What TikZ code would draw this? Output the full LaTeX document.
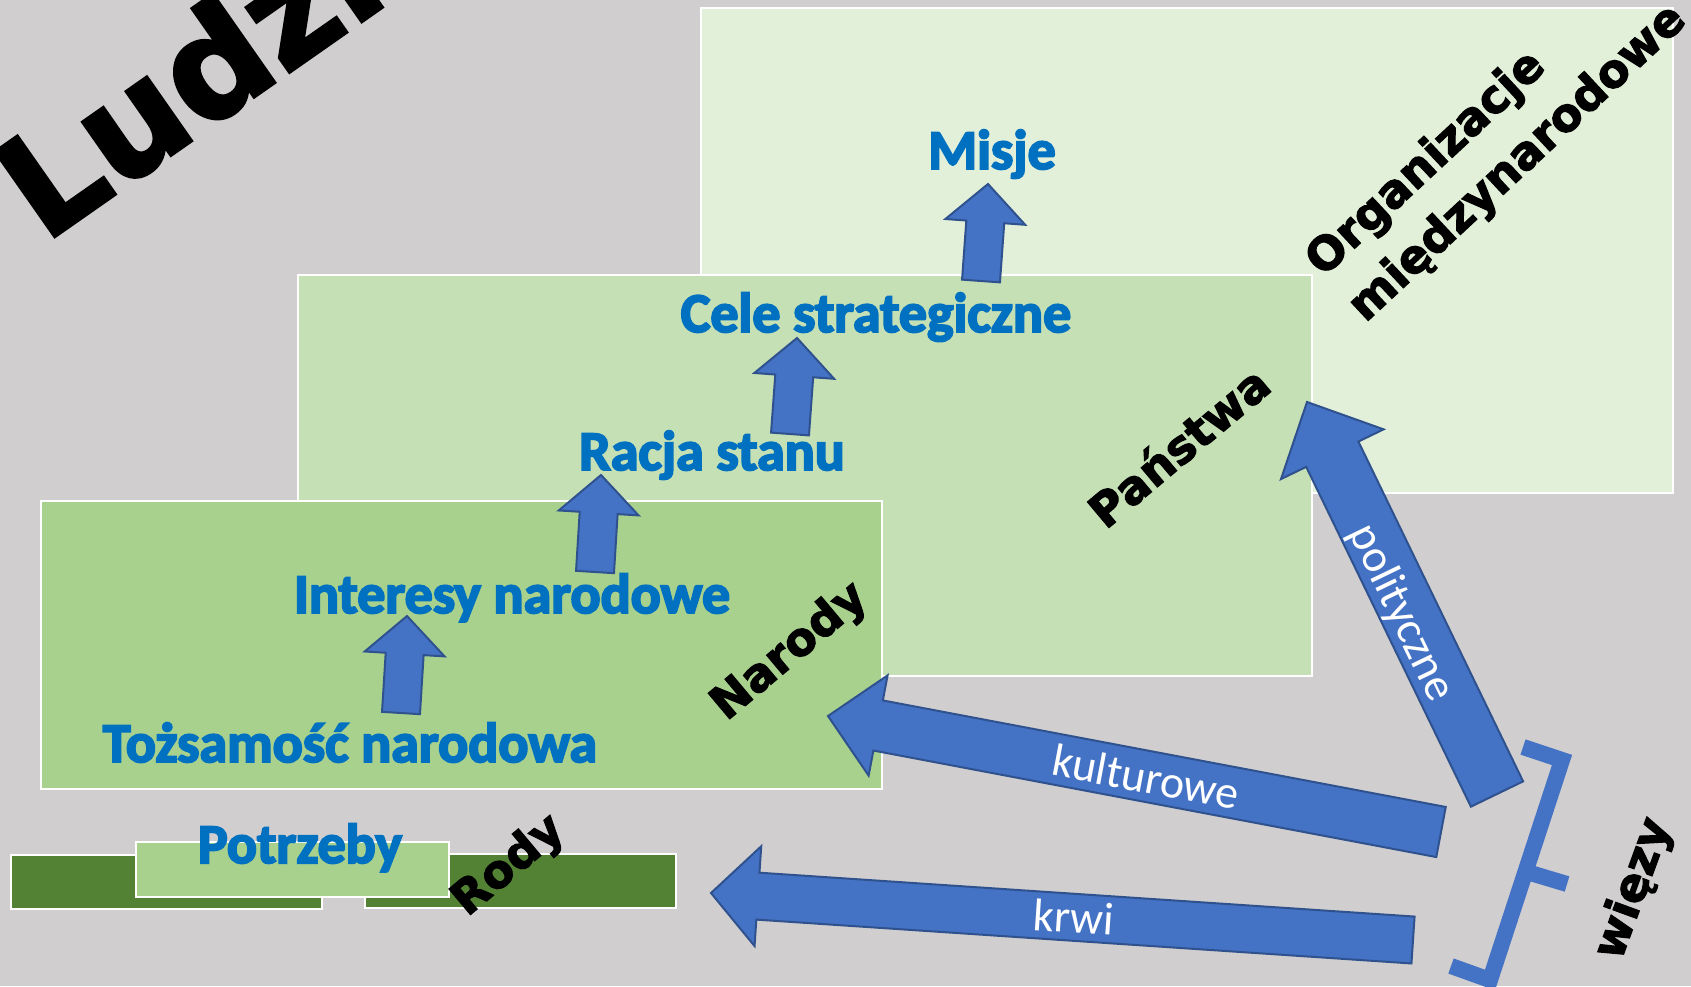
\documentclass[tikz,border=0pt]{standalone}
\usepackage{fontspec}
\setmainfont{Carlito}
\newfontfamily\goalfont{Carlito}[BoldFeatures={FakeBold=3.5}]
\newfontfamily\heavyfont{DejaVu Sans}[BoldFeatures={FakeBold=2.4}]
\usetikzlibrary{calc}

\definecolor{canvasgray}{HTML}{D0CECE}
\definecolor{orggreen}{HTML}{E2F0D9}
\definecolor{stategreen}{HTML}{C5E0B4}
\definecolor{nationgreen}{HTML}{A9D18E}
\definecolor{clangreen}{HTML}{548235}
\definecolor{goalblue}{HTML}{0070C0}
\definecolor{arrowblue}{HTML}{4472C4}
\definecolor{arrowedge}{HTML}{2F528F}

\tikzset{
  layer/.style={draw=white,line width=2pt},
  goal/.style={text=goalblue,font=\goalfont\bfseries\fontsize{56}{60}\selectfont,inner sep=0pt,anchor=base},
  tier/.style={font=\heavyfont\bfseries\fontsize{46}{62}\selectfont,inner sep=0pt,rotate=#1},
  tier/.default=40,
  bondlabel/.style={text=white,font=\fontsize{46}{50}\selectfont,inner sep=0pt},
  blockarrow/.style={fill=arrowblue,draw=arrowedge,line width=2pt,line join=miter},
  bracket/.style={draw=arrowblue,line width=16pt,line join=miter}
}

% tail, tip, half shaft, half head, head length
\newcommand\blockarrow[5]{%
  \coordinate (ba) at ($(#2)!#5!(#1)$);
  \draw[blockarrow] ($(#1)!#3!90:(#2)$) -- ($(ba)!#3!90:(#2)$) -- ($(ba)!#4!90:(#2)$)
    -- (#2) -- ($(ba)!#4!-90:(#2)$) -- ($(ba)!#3!-90:(#2)$) -- ($(#1)!#3!-90:(#2)$) -- cycle;
}

\begin{document}
\begin{tikzpicture}[x=1pt,y=-1pt]
  \useasboundingbox (0,0) rectangle (1691,986);
  \clip (0,0) rectangle (1691,986);
  \fill[canvasgray] (0,0) rectangle (1691,986);

  \filldraw[layer,fill=orggreen] (701,8) rectangle (1673,493);
  \filldraw[layer,fill=stategreen] (298,275) rectangle (1312,676);
  \filldraw[layer,fill=nationgreen] (41,501) rectangle (882,789);
  \filldraw[layer,fill=clangreen] (11,855) rectangle (322,909);
  \filldraw[layer,fill=clangreen] (365,854) rectangle (676,908);
  \filldraw[layer,fill=nationgreen] (136,842) rectangle (449,897);

  \node[font=\heavyfont\bfseries\fontsize{142}{150}\selectfont,inner sep=0pt,
    anchor=base west,rotate=35] (ludz) at (44,244) {Ludzkość};

  \node[goal] (misje) at (992,169) {Misje};
  \node[goal] (cele) at (876,332) {Cele strategiczne};
  \node[goal] (racja) at (712,470) {Racja stanu};
  \node[goal] (interesy) at (512,613) {Interesy narodowe};
  \node[goal] (tozsamosc) at (350,762) {Tożsamość narodowa};
  \node[goal] (potrzeby) at (300,863) {Potrzeby};

  \node[tier=43,align=left] (org) at (1497,141) {Organizacje\\międzynarodowe};
  \node[tier] (panstwa) at (1178,446) {Państwa};
  \node[tier] (narody) at (790,652) {Narody};
  \node[tier] (rody) at (509,866) {Rody};
  \node[tier=70] (wiezy) at (1634,889) {więzy};

  \coordinate (t-tail) at (401,713);
  \coordinate (t-tip) at (407,616);
  \coordinate (i-tail) at (595,572);
  \coordinate (i-tip) at (601,475);
  \coordinate (r-tail) at (790,434);
  \coordinate (r-tip) at (797,338);
  \coordinate (c-tail) at (981,281);
  \coordinate (c-tip) at (988,184);
  \foreach \s in {t,i,r,c} {
    \blockarrow{\s-tail}{\s-tip}{19pt}{40pt}{38pt}
  }

  \coordinate (pol-tail) at (1497,794);
  \coordinate (pol-tip) at (1307,402);
  \coordinate (kul-tail) at (1441,832);
  \coordinate (kul-tip) at (828,716);
  \coordinate (krw-tail) at (1413,940);
  \coordinate (krw-tip) at (711,893);
  \blockarrow{pol-tail}{pol-tip}{29pt}{57pt}{58pt}
  \blockarrow{kul-tail}{kul-tip}{25.5pt}{51pt}{51pt}
  \blockarrow{krw-tail}{krw-tip}{23.5pt}{50pt}{47pt}

  \node[bondlabel,rotate=-64.2] (polityczne) at (1401,613) {polityczne};
  \node[bondlabel,rotate=-10.7] (kulturowe) at (1146,777) {kulturowe};
  \node[bondlabel,rotate=-3.9] (krwi) at (1074,917) {krwi};

  \draw[bracket] (1523,747) -- (1562,760) -- (1490,980) -- (1451,966);
  \draw[bracket] (1527,872) -- (1567,884);
\end{tikzpicture}
\end{document}
